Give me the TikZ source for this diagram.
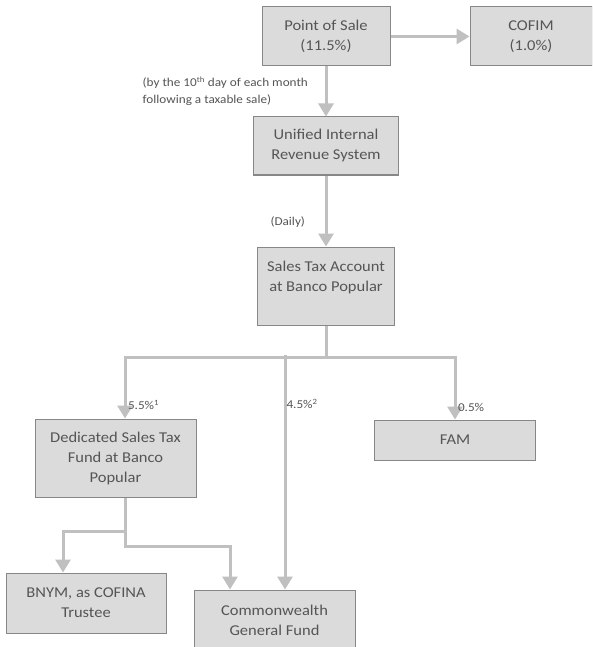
\documentclass[tikz,border=0pt]{standalone}
\usepackage{fontspec}
\setmainfont{Carlito}[FakeStretch=1.1]
\usetikzlibrary{arrows.meta,positioning}
\definecolor{flowgray}{RGB}{192,192,192}
\definecolor{boxfill}{RGB}{219,219,219}
\definecolor{boxline}{RGB}{135,135,135}
\definecolor{textgray}{RGB}{85,85,85}
\begin{document}
\begin{tikzpicture}
      [x=1pt, y=-1pt, >={Triangle[width=15pt,length=13pt]},
      account/.style={rectangle, draw=boxline, fill=boxfill, line width=1pt,
        text=textgray, align=center, inner sep=0pt,
        font=\fontsize{15}{20}\selectfont},
      flow/.style={draw=flowgray, line width=3pt, ->},
      pipe/.style={draw=flowgray, line width=3pt},
      share/.style={text=textgray, inner sep=1.5pt, font=\fontsize{12}{17}\selectfont}]

      \clip (0,0) rectangle (592,647);
      \fill [white] (0,0) rectangle (592,647);

      \node [account, minimum width=128pt, minimum height=59pt] (POS) at (326,36.5)
        {Point of Sale\\(11.5\%)};
      \node [account, minimum width=122pt, minimum height=59pt, right=79pt of POS] (COFIM)
        {COFIM\\(1.0\%)};
      \node [account, minimum width=145pt, minimum height=58pt, below=50pt of POS] (UIRS)
        {Unified Internal\\Revenue System};
      \node [account, minimum width=137pt, minimum height=78pt, below=71pt of UIRS] (STA)
        {Sales Tax Account\\at Banco Popular\\\mbox{}};
      \node [account, minimum width=161pt, minimum height=78pt] (DSTF) at (115.5,458)
        {Dedicated Sales Tax\\Fund at Banco\\Popular};
      \node [account, minimum width=161pt, minimum height=40pt] (FAM) at (455,440) {FAM};
      \node [account, minimum width=160pt, minimum height=60pt] (BNYM) at (86,603)
        {BNYM, as COFINA\\Trustee};
      \node [account, minimum width=161pt, minimum height=60pt] (CGF) at (274.5,620)
        {Commonwealth\\General Fund};

      \draw [flow] (POS) -- (COFIM);
      \draw [flow] (POS.south) -- (UIRS.north);
      \node [share, anchor=west, align=left] (monthly) at (141,91.5)
        {(by the 10\textsuperscript{th} day of each month\\following a taxable sale)};
      \draw [flow] (UIRS.south) -- (STA.north)
        node [share, left=18pt, pos=0.66] (daily) {(Daily)};

      \draw [pipe] (STA.south) -- ++(0,32) coordinate (bus);
      \coordinate (mid) at (285,355);
      \draw [flow] (bus) -| ([xshift=9.5pt]DSTF.north)
        node [share, right, pos=0.89] (pctA) {5.5\%\textsuperscript{1}};
      \draw [flow] (bus) -| (FAM.north)
        node [share, right, pos=0.9] (pctC) {0.5\%};
      \draw [flow] (mid) -- (mid |- CGF.north)
        node [share, right, inner sep=0pt, pos=0.21] (pctB) {4.5\%\textsuperscript{2}};

      \coordinate (fork) at ([xshift=9.5pt]DSTF.south);
      \draw [flow] (fork) -- ++(0,34) -| ([xshift=-23pt]BNYM.north);
      \draw [flow] (fork) |- ([xshift=-44.5pt]CGF.north |- 0,546) -- ([xshift=-44.5pt]CGF.north);
    \end{tikzpicture}
\end{document}
